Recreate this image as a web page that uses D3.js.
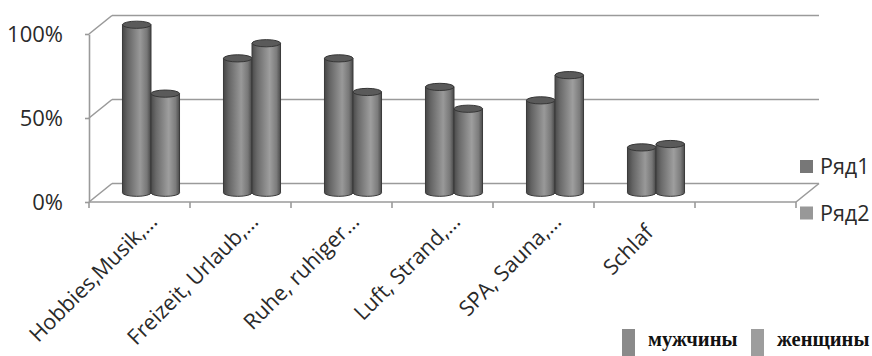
<!DOCTYPE html>
<html>
<head>
<meta charset="utf-8">
<script src="https://cdn.jsdelivr.net/npm/d3@7"></script>
<style>
  html, body { margin: 0; padding: 0; background: #fff; }
  svg { display: block; }
</style>
</head>
<body>
<svg id="chart" width="872" height="356"></svg>
<script>
// Categories (the last slot is an empty category, as in the worksheet)
const categories = ["Hobbies,Musik,…", "Freizeit, Urlaub,…", "Ruhe, ruhiger…", "Luft, Strand,…", "SPA, Sauna,…", "Schlaf", ""];
const seriesNames = ["Ряд1", "Ряд2"];
const row1 = [1.00, 0.80, 0.80, 0.63, 0.55, 0.27, null];
const row2 = [0.59, 0.89, 0.60, 0.50, 0.70, 0.29, null];
const yTicks = [0, 0.5, 1];
const bottomLegend = ["мужчины", "женщины"];

const svg = d3.select("#chart");

// Front plane of the 3-D plot box
const x = d3.scaleBand().domain(categories).range([89, 796]).paddingInner(0).paddingOuter(0);
const y = d3.scaleLinear().domain([0, 1]).range([202, 34]);
// Depth offset from the front plane to the back wall
const depth = { dx: 23, dy: -18.5 };
const mid = { dx: depth.dx / 2, dy: depth.dy / 2 };

const gridColor = "#9a9a9a";
const textColor = "#2a2a2a";

const box = svg.append("g").attr("stroke", gridColor).attr("stroke-width", 1.6).attr("fill", "none");

// Back-wall gridlines and side-wall diagonals
yTicks.forEach(t => {
  const yf = y(t), yb = y(t) + depth.dy;
  box.append("line").attr("x1", x.range()[0] + depth.dx).attr("x2", x.range()[1] + depth.dx)
    .attr("y1", yb).attr("y2", yb);
  box.append("line").attr("x1", x.range()[0]).attr("y1", yf)
    .attr("x2", x.range()[0] + depth.dx).attr("y2", yb);
});
// Floor: right edge
box.append("line").attr("x1", x.range()[1] + depth.dx).attr("y1", y(0) + depth.dy)
  .attr("x2", x.range()[1]).attr("y2", y(0));

// Value axis on the front-left edge
const yAxis = d3.axisLeft(y).tickValues(yTicks).tickFormat(d3.format(".0%"))
  .tickSizeInner(4).tickSizeOuter(0).tickPadding(22);
const gy = svg.append("g").attr("transform", `translate(${x.range()[0]},0)`).call(yAxis);
gy.select(".domain").attr("stroke", gridColor).attr("stroke-width", 1.6);
gy.selectAll(".tick line").attr("stroke", gridColor).attr("stroke-width", 1.6);
gy.selectAll(".tick text").attr("fill", textColor)
  .style("font-family", "'Open Sans', sans-serif").style("font-size", "22px").attr("dy", "0.36em");

// Category axis on the front floor edge, ticks at category boundaries
const boundaries = categories.map(c => x(c)).concat([x.range()[1]]);
const gx = svg.append("g");
gx.append("line").attr("x1", x.range()[0]).attr("x2", x.range()[1])
  .attr("y1", y(0)).attr("y2", y(0)).attr("stroke", gridColor).attr("stroke-width", 1.6);
gx.selectAll("line.tick").data(boundaries).join("line").attr("class", "tick")
  .attr("x1", d => d).attr("x2", d => d).attr("y1", y(0)).attr("y2", y(0) + 6)
  .attr("stroke", gridColor).attr("stroke-width", 1.6);

// Rotated category labels: truncated labels end at the axis, full labels sit a little lower
gx.selectAll("text").data(categories.filter(c => c !== "")).join("text")
  .attr("text-anchor", "end")
  .attr("transform", d => {
    const cx = x(d) + x.bandwidth() / 2 + 19;
    const shift = d.endsWith("…") ? 0 : 1;
    return `translate(${cx - shift * 9},${223 + shift * 11}) rotate(-45)`;
  })
  .attr("fill", textColor)
  .style("font-family", "'Open Sans', sans-serif").style("font-size", "21.5px")
  .text(d => d);

// Cylinders, placed halfway into the depth of the box
const x1 = d3.scaleBand().domain(seriesNames).range([0, x.bandwidth()]).paddingInner(0).paddingOuter(0.77);
const ry = 3.6;

const defs = svg.append("defs");
function bodyGradient(id, stops) {
  const g = defs.append("linearGradient").attr("id", id).attr("x1", "0%").attr("x2", "100%");
  stops.forEach(([o, c]) => g.append("stop").attr("offset", o).attr("stop-color", c));
}
bodyGradient("cyl0", [["0%", "#464646"], ["18%", "#646464"], ["62%", "#999999"], ["86%", "#777777"], ["100%", "#464646"]]);
bodyGradient("cyl1", [["0%", "#4b4b4b"], ["18%", "#6a6a6a"], ["62%", "#9e9e9e"], ["86%", "#7c7c7c"], ["100%", "#4b4b4b"]]);

const bars = [];
categories.forEach((c, i) => {
  [row1[i], row2[i]].forEach((v, s) => {
    if (v == null) return;
    bars.push({ c, s, v });
  });
});

const cyl = svg.append("g").selectAll("g").data(bars).join("g");
cyl.each(function (d) {
  const g = d3.select(this);
  const w = x1.bandwidth();
  const left = x(d.c) + mid.dx + x1(seriesNames[d.s]);
  const right = left + w;
  const rx = w / 2;
  const yTop = y(d.v) + mid.dy;
  const yBase = y(0) + mid.dy;
  g.append("path")
    .attr("d", `M${left},${yTop} L${left},${yBase} A${rx},${ry} 0 0 0 ${right},${yBase} L${right},${yTop} Z`)
    .attr("fill", `url(#cyl${d.s})`).attr("stroke", "#3a3a3a").attr("stroke-width", 1);
  g.append("ellipse").attr("cx", left + rx).attr("cy", yTop).attr("rx", rx).attr("ry", ry)
    .attr("fill", "#5a5a5a").attr("stroke", "#363636").attr("stroke-width", 1);
});

// Series legend on the right
const legendColors = ["#777777", "#989898"];
const lg = svg.append("g").selectAll("g").data(seriesNames).join("g")
  .attr("transform", (d, i) => `translate(800,${160 + i * 46.5})`);
lg.append("rect").attr("width", 13).attr("height", 13).attr("fill", (d, i) => legendColors[i]);
lg.append("text").attr("x", 20).attr("y", 6.5).attr("dy", "0.36em").attr("fill", textColor)
  .style("font-family", "'Open Sans', sans-serif").style("font-size", "21.5px").text(d => d);

// Bottom legend
const bottomColors = ["#8a8a8a", "#9d9d9d"];
const bottomX = [622, 751];
const bl = svg.append("g").selectAll("g").data(bottomLegend).join("g")
  .attr("transform", (d, i) => `translate(${bottomX[i]},329)`);
bl.append("rect").attr("width", 13).attr("height", 27).attr("fill", (d, i) => bottomColors[i]);
bl.append("text").attr("x", 26).attr("y", 17).attr("fill", "#111")
  .style("font-family", "'Liberation Serif', 'Times New Roman', serif").style("font-weight", "bold")
  .style("font-size", "20.5px").text(d => d);
</script>
</body>
</html>
